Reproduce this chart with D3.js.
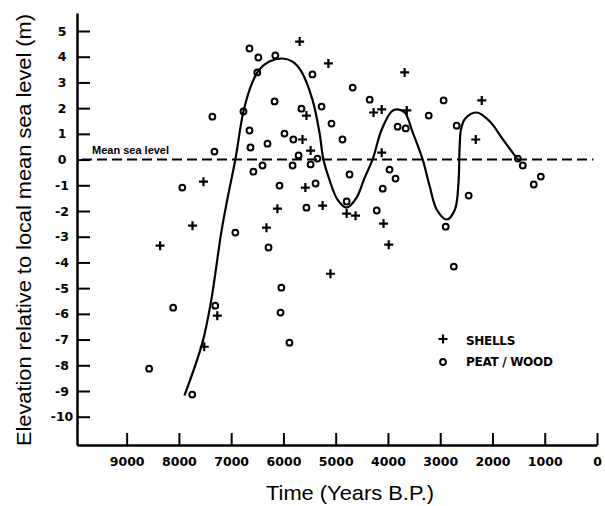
<!DOCTYPE html>
<html>
<head>
<meta charset="utf-8">
<script src="https://cdn.jsdelivr.net/npm/d3@7"></script>
<style>
  body { margin: 0; background: #fff; }
  svg { display: block; }
  .tick text { font-family: 'DejaVu Sans', sans-serif; font-weight: bold; font-size: 12.5px; fill: #000; }
  .axis-title { font-family: 'Liberation Sans', Arial, sans-serif; font-size: 21px; fill: #000; }
  .legend-label { font-family: 'DejaVu Sans', sans-serif; font-weight: bold; font-size: 12px; fill: #000; letter-spacing: -0.3px; }
  .msl-label { font-family: 'Liberation Sans', Arial, sans-serif; font-weight: bold; font-size: 11px; fill: #000; }
</style>
</head>
<body>
<div id="chart"></div>
<script>
//tick values
var xTicks = [9000, 8000, 7000, 6000, 5000, 4000, 3000, 2000, 1000, 0];
var yTicks = [5, 4, 3, 2, 1, 0, -1, -2, -3, -4, -5, -6, -7, -8, -9, -10];

//shell samples [years B.P., elevation m]
var shells = [
  [8360, -3.35], [7740, -2.57], [7530, -0.86], [7265, -6.07], [7515, -7.28],
  [6325, -2.65], [6115, -1.91], [5690, 4.59], [5140, 3.74], [5560, 1.71],
  [5635, 0.78], [5480, 0.35], [5580, -1.09], [5250, -1.79], [5100, -4.44],
  [4790, -2.10], [4620, -2.18], [3680, 3.39], [4275, 1.83], [4120, 1.95],
  [3640, 1.91], [4120, 0.27], [4085, -2.49], [3985, -3.31], [2205, 2.30],
  [2320, 0.78]
];

//peat / wood samples [years B.P., elevation m]
var peatWood = [
  [8570, -8.13], [8110, -5.76], [7745, -9.14], [7935, -1.09], [7360, 1.67],
  [7320, 0.31], [6920, -2.84], [7305, -5.68], [6765, 1.87], [6650, 4.32],
  [6480, 3.97], [6500, 3.39], [6155, 4.05], [6650, 1.13], [6630, 0.47],
  [6170, 2.26], [6305, 0.62], [5980, 1.01], [5810, 0.78], [5710, 0.16],
  [5655, 1.98], [5445, 3.31], [5270, 2.06], [5080, 1.40], [4870, 0.78],
  [6575, -0.47], [6400, -0.23], [5825, -0.23], [5480, -0.19], [5350, 0.04],
  [6075, -1.01], [5385, -0.93], [5560, -1.87], [4735, -0.58], [4790, -1.63],
  [6285, -3.42], [6040, -4.98], [6055, -5.95], [5885, -7.12], [4675, 2.80],
  [4350, 2.33], [3815, 1.28], [3660, 1.21], [2935, 2.30], [3220, 1.71],
  [2685, 1.32], [3970, -0.39], [3855, -0.74], [4100, -1.13], [4215, -1.98],
  [2455, -1.40], [1515, 0.04], [1420, -0.23], [1210, -0.97], [1075, -0.66],
  [2895, -2.61], [2740, -4.16]
];

//fitted sea level curve [years B.P., elevation m]
var curve = [
  [7895, -9.18], [7550, -7.12], [7380, -5.45], [7190, -2.84], [7075, -1.56],
  [6920, 0], [6765, 1.87], [6595, 3.00], [6460, 3.50], [6270, 3.81],
  [6020, 3.93], [5825, 3.81], [5655, 3.42], [5445, 2.33], [5310, 1.05],
  [5235, 0], [5120, -0.78], [4965, -1.56], [4790, -1.87], [4600, -1.48],
  [4445, -0.70], [4295, 0], [4120, 1.17], [3930, 1.87], [3835, 1.95],
  [3680, 1.83], [3525, 1.05], [3335, 0], [3200, -1.05], [3065, -1.95],
  [2875, -2.33], [2720, -1.95], [2650, -0.90], [2630, 0.40], [2600, 1.20],
  [2520, 1.60], [2300, 1.83], [2050, 1.48], [1800, 0.78], [1515, 0]
];

var width = 605, height = 506;
var svg = d3.select('#chart').append('svg')
  .attr('width', width)
  .attr('height', height);

var x = d3.scaleLinear().domain([9950, 0]).range([77, 597]);
var y = d3.scaleLinear().domain([5.7, -11.1]).range([13, 445]);

//axes
var xAxis = d3.axisBottom(x)
  .tickValues(xTicks)
  .tickFormat(function(d) { return String(d); })
  .tickSizeInner(-12)
  .tickSizeOuter(0)
  .tickPadding(12);

var yAxis = d3.axisLeft(y)
  .tickValues(yTicks)
  .tickFormat(function(d) { return String(d); })
  .tickSizeInner(-13)
  .tickSizeOuter(0)
  .tickPadding(15);

svg.append('g')
  .attr('transform', 'translate(0,445)')
  .call(xAxis);

var gy = svg.append('g')
  .attr('transform', 'translate(77,0)')
  .call(yAxis);

gy.selectAll('.tick text').attr('text-anchor', 'middle');
svg.selectAll('.domain').attr('stroke-width', 2.5).attr('stroke', '#000');
svg.selectAll('.tick line').attr('stroke-width', 2).attr('stroke', '#000');

//mean sea level
svg.append('line')
  .attr('x1', 82)
  .attr('x2', x(70))
  .attr('y1', y(0))
  .attr('y2', y(0))
  .attr('stroke', '#000')
  .attr('stroke-width', 2)
  .attr('stroke-dasharray', '10,5');

svg.append('text')
  .attr('class', 'msl-label')
  .attr('x', 92)
  .attr('y', 154)
  .text('Mean sea level');

//curve
var line = d3.line()
  .x(function(d) { return x(d[0]); })
  .y(function(d) { return y(d[1]); })
  .curve(d3.curveCatmullRom.alpha(0.5));

svg.append('path')
  .datum(curve)
  .attr('d', line)
  .attr('fill', 'none')
  .attr('stroke', '#000')
  .attr('stroke-width', 2.2);

//markers
var crossPath = 'M-4.5,0H4.5M0,-4.5V4.5';

svg.append('g').selectAll('path')
  .data(shells)
  .enter().append('path')
  .attr('transform', function(d) { return 'translate(' + x(d[0]) + ',' + y(d[1]) + ')'; })
  .attr('d', crossPath)
  .attr('stroke', '#000')
  .attr('stroke-width', 2.2);

svg.append('g').selectAll('circle')
  .data(peatWood)
  .enter().append('circle')
  .attr('cx', function(d) { return x(d[0]); })
  .attr('cy', function(d) { return y(d[1]); })
  .attr('r', 2.9)
  .attr('fill', 'none')
  .attr('stroke', '#000')
  .attr('stroke-width', 2);

//legend
svg.append('path')
  .attr('transform', 'translate(443,339)')
  .attr('d', crossPath)
  .attr('stroke', '#000')
  .attr('stroke-width', 2.2);
svg.append('text').attr('class', 'legend-label').attr('x', 466).attr('y', 345).text('SHELLS');

svg.append('circle')
  .attr('cx', 443)
  .attr('cy', 362)
  .attr('r', 2.9)
  .attr('fill', 'none')
  .attr('stroke', '#000')
  .attr('stroke-width', 2);
svg.append('text').attr('class', 'legend-label').attr('x', 466).attr('y', 366).text('PEAT / WOOD');

//axis titles
svg.append('text')
  .attr('class', 'axis-title')
  .attr('text-anchor', 'middle')
  .attr('x', 350)
  .attr('y', 500)
  .attr('textLength', 168)
  .attr('lengthAdjust', 'spacingAndGlyphs')
  .text('Time (Years B.P.)');

svg.append('text')
  .attr('class', 'axis-title')
  .attr('text-anchor', 'middle')
  .attr('transform', 'translate(31,230) rotate(-90)')
  .attr('textLength', 432)
  .attr('lengthAdjust', 'spacingAndGlyphs')
  .text('Elevation relative to local mean sea level (m)');
</script>
</body>
</html>
